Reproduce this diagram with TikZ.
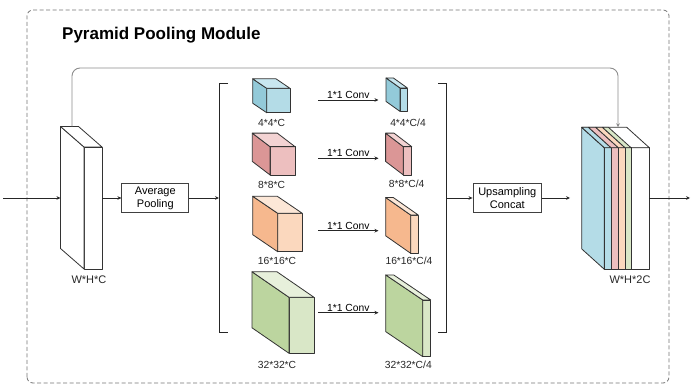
\documentclass[tikz,border=0pt]{standalone}
\usepackage{fontspec}
\setmainfont{Liberation Sans}
\usetikzlibrary{arrows.meta}

\definecolor{blueF}{HTML}{B4DCE7}
\definecolor{blueS}{HTML}{93CAD9}
\definecolor{blueT}{HTML}{C8E6EF}
\definecolor{redF}{HTML}{EDBFBF}
\definecolor{redS}{HTML}{DB9696}
\definecolor{redT}{HTML}{F3D3D3}
\definecolor{orangeF}{HTML}{FBD8BE}
\definecolor{orangeS}{HTML}{F6B88E}
\definecolor{orangeT}{HTML}{FCE7D7}
\definecolor{greenF}{HTML}{D9E7C7}
\definecolor{greenS}{HTML}{BCD59F}
\definecolor{greenT}{HTML}{E7F0DB}

% left and top faces of a box whose front face is the node #1
\newcommand{\sidefaces}[5]{%
  \draw[faceline, fill=#2] (#1.north west) -- ++(#4pt,#5pt)
    -- ([shift={(#4pt,#5pt)}]#1.south west) -- (#1.south west) -- cycle;
  \draw[faceline, fill=#3] (#1.north west) -- ++(#4pt,#5pt)
    -- ([shift={(#4pt,#5pt)}]#1.north east) -- (#1.north east) -- cycle;
}

\begin{document}
\begin{tikzpicture}
  \tikzset{
    faceline/.style={draw=black!80, line width=0.8pt, line join=round},
    facebox/.style={
      faceline,
      inner sep=0pt,
      outer sep=0pt
    },
    opbox/.style={
      draw=black!75,
      line width=0.8pt,
      fill=white,
      inner sep=0pt,
      minimum height=28.5pt,
      align=center,
      font=\fontsize{11}{13}\selectfont
    },
    sizelbl/.style={font=\fontsize{10.3}{11}\selectfont, text=black!85},
    biglbl/.style={font=\fontsize{11}{12}\selectfont, text=black!85},
    convlbl/.style={
      font=\fontsize{10.3}{11}\selectfont,
      inner sep=1pt,
      minimum width=60pt,
      anchor=south
    },
    arr/.style={draw=black!85, line width=0.8pt, -{Stealth[length=4pt,width=3.6pt]}},
    skip/.style={draw=black!45, line width=0.9pt, rounded corners=8pt,
      -{Stealth[length=4pt,width=3.6pt]}},
    bracketline/.style={draw=black!85, line width=0.8pt}
  }

  \useasboundingbox (0pt,0pt) rectangle (698pt,385pt);

  % frame and title
  \draw[black!55, line width=0.8pt, dash pattern=on 4pt off 2.5pt, rounded corners=6pt]
    (27pt,2pt) rectangle (669pt,375pt);
  \node[anchor=base west, inner sep=0pt, font=\bfseries\fontsize{17}{17}\selectfont]
    (title) at (62pt,345pt) {Pyramid Pooling Module};

  % input feature map
  \node[facebox, fill=white, minimum width=18pt, minimum height=122pt] (inp) at (93pt,177pt) {};
  \sidefaces{inp}{white}{white}{-23.5}{20.5}
  \node[biglbl] (inlbl) at (89pt,105pt) {W*H*C};

  \node[opbox, minimum width=67pt] (avg) at (155.3pt,187pt) {Average\\Pooling};

  % brackets
  \coordinate (lbt) at (219pt,302pt);
  \coordinate (lbb) at (219pt,53pt);
  \draw[bracketline] ([xshift=9pt]lbt) -- (lbt) -- (lbb) -- ([xshift=9pt]lbb);
  \coordinate (rbt) at (446.7pt,302pt);
  \coordinate (rbb) at (446.7pt,53pt);
  \draw[bracketline] ([xshift=-8.5pt]rbt) -- (rbt) -- (rbb) -- ([xshift=-8.5pt]rbb);

  % pooled maps
  \node[facebox, fill=blueF, minimum width=23.3pt, minimum height=24.4pt] (c4) at (278.3pt,284.5pt) {};
  \sidefaces{c4}{blueS}{blueT}{-14}{9.5}
  \node[sizelbl] (c4lbl) at (271.7pt,261.7pt) {4*4*C};

  \node[facebox, fill=redF, minimum width=25pt, minimum height=28.3pt] (c8) at (282.5pt,224.2pt) {};
  \sidefaces{c8}{redS}{redT}{-17.7}{13.5}
  \node[sizelbl] (c8lbl) at (271.7pt,200pt) {8*8*C};

  \node[facebox, fill=orangeF, minimum width=24.6pt, minimum height=38.4pt] (c16) at (290pt,152.5pt) {};
  \sidefaces{c16}{orangeS}{orangeT}{-25}{17}
  \node[sizelbl] (c16lbl) at (277pt,124pt) {16*16*C};

  \node[facebox, fill=greenF, minimum width=25pt, minimum height=56pt] (c32) at (301.5pt,59.7pt) {};
  \sidefaces{c32}{greenS}{greenT}{-37}{25.5}
  \node[sizelbl] (c32lbl) at (277pt,20pt) {32*32*C};

  % 1*1 conv
  \node[convlbl] (k4) at (348.3pt,285pt) {1*1 Conv};
  \node[convlbl] (k8) at (348.3pt,226.7pt) {1*1 Conv};
  \node[convlbl] (k16) at (348.3pt,154.3pt) {1*1 Conv};
  \node[convlbl] (k32) at (348.3pt,72.3pt) {1*1 Conv};
  \foreach \k in {k4,k8,k16,k32}
    \draw[arr] (\k.south west) -- (\k.south east);

  % reduced maps
  \node[facebox, fill=blueF, minimum width=7.3pt, minimum height=23.5pt] (s4) at (403.7pt,285.3pt) {};
  \sidefaces{s4}{blueS}{blueT}{-14}{10}
  \node[sizelbl] (s4lbl) at (408pt,261.7pt) {4*4*C/4};

  \node[facebox, fill=redF, minimum width=8.4pt, minimum height=28.3pt] (s8) at (407.5pt,224.2pt) {};
  \sidefaces{s8}{redS}{redT}{-17.7}{13.5}
  \node[sizelbl] (s8lbl) at (406.7pt,200.7pt) {8*8*C/4};

  \node[facebox, fill=orangeF, minimum width=7.6pt, minimum height=38.3pt] (s16) at (414.5pt,150.8pt) {};
  \sidefaces{s16}{orangeS}{orangeT}{-25}{17.5}
  \node[sizelbl] (s16lbl) at (409pt,124.3pt) {16*16*C/4};

  \node[facebox, fill=greenF, minimum width=8pt, minimum height=56.7pt] (s32) at (426.7pt,56.7pt) {};
  \sidefaces{s32}{greenS}{greenT}{-37}{25}
  \node[sizelbl] (s32lbl) at (408.3pt,20pt) {32*32*C/4};

  \node[opbox, minimum width=68.7pt] (ups) at (507.3pt,187pt) {Upsampling\\Concat};

  % output feature map
  \node[facebox, fill=white, minimum width=45pt, minimum height=121.6pt] (outb) at (626.8pt,176.5pt) {};
  \sidefaces{outb}{blueF}{white}{-22.6}{20.4}
  \foreach \xa/\xb/\col in {604.3/611/blueF, 611/618.3/redF, 618.3/625/orangeF, 625/631/greenF}{
    \draw[faceline, fill=\col] (\xa pt,115.7pt) rectangle (\xb pt,237.3pt);
    \draw[faceline, fill=\col] (\xa pt,237.3pt) -- ++(-22.6pt,20.4pt)
      -- ([shift={(-22.6pt,20.4pt)}]\xb pt,237.3pt) -- (\xb pt,237.3pt) -- cycle;
  }
  \node[biglbl] (outlbl) at (630pt,105pt) {W*H*2C};

  % connections
  \coordinate (in) at (3pt,187pt);
  \coordinate (inL) at (60.5pt,187pt);
  \coordinate (outL) at (570pt,187pt);
  \coordinate (out) at (690pt,187pt);
  \coordinate (skipS) at (72pt,258.5pt);
  \coordinate (skipE) at (618pt,257.7pt);

  \draw[arr] (in) -- (inL);
  \draw[arr] (inp.east |- avg.west) -- (avg.west);
  \draw[arr] (avg.east) -- (avg.east -| lbt);
  \draw[arr] (ups.west -| rbt) -- (ups.west);
  \draw[arr] (ups.east) -- (outL);
  \draw[arr] (outb.east |- ups.east) -- (out);
  \draw[skip] (skipS) -- ++(0,58.5pt) -| (skipE);
\end{tikzpicture}
\end{document}
